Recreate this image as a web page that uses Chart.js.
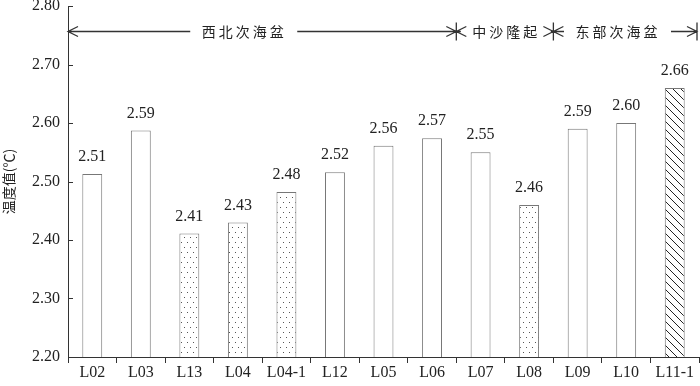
<!DOCTYPE html>
<html>
<head>
<meta charset="utf-8">
<script src="https://cdn.jsdelivr.net/npm/chart.js@4/dist/chart.umd.min.js"></script>
<style>html,body{margin:0;padding:0;background:#fff}</style>
</head>
<body>
<canvas id="tempChart" width="700" height="386"></canvas>
<script>
// stations and bottom water temperature
const stations = ['L02', 'L03', 'L13', 'L04', 'L04-1', 'L12', 'L05', 'L06', 'L07', 'L08', 'L09', 'L10', 'L11-1'];
const temps = [2.513, 2.587, 2.411, 2.430, 2.482, 2.516, 2.561, 2.574, 2.550, 2.460, 2.590, 2.600, 2.660];
const fills = ['plain', 'plain', 'dots', 'dots', 'dots', 'plain', 'plain', 'plain', 'plain', 'dots', 'plain', 'plain', 'hatch'];

// regions along the top (edges are in category index units)
const regions = ['西北次海盆', '中沙隆起', '东部次海盆'];
const regionEdges = [-0.5, 7.5, 9.5, 12.5];
const regionLabelAt = [3.1, 8.5, 10.8];
const regionArrowY = 2.757;

const SERIF = '"Liberation Serif", "Times New Roman", serif';
const CJK = '"Noto Sans CJK SC", sans-serif';

function dotPattern() {
  const c = document.createElement('canvas');
  c.width = 6; c.height = 10;
  const g = c.getContext('2d');
  g.fillStyle = '#fff';
  g.fillRect(0, 0, 6, 10);
  g.fillStyle = '#555';
  g.fillRect(1, 2, 1, 1);
  g.fillRect(4, 7, 1, 1);
  return g.createPattern(c, 'repeat');
}

function hatchPattern() {
  const c = document.createElement('canvas');
  c.width = 8; c.height = 8;
  const g = c.getContext('2d');
  g.fillStyle = '#fff';
  g.fillRect(0, 0, 8, 8);
  g.strokeStyle = '#222';
  g.lineWidth = 1;
  g.beginPath();
  g.moveTo(-1, -1); g.lineTo(9, 9);
  g.moveTo(-5, 3); g.lineTo(1, 9);
  g.moveTo(7, -1); g.lineTo(9, 1);
  g.stroke();
  return g.createPattern(c, 'repeat');
}

const patterns = { plain: '#fff', dots: dotPattern(), hatch: hatchPattern() };

const extras = {
  id: 'extras',
  afterDatasetsDraw(chart) {
    const ctx = chart.ctx;
    const meta = chart.getDatasetMeta(0);
    ctx.save();
    ctx.font = '16px ' + SERIF;
    ctx.fillStyle = '#222';
    ctx.textAlign = 'center';
    ctx.textBaseline = 'bottom';
    meta.data.forEach((bar, i) => {
      ctx.fillText(temps[i].toFixed(2), bar.x, bar.y - 9);
    });
    ctx.restore();
  },
  afterDraw(chart) {
    const ctx = chart.ctx;
    const x = chart.scales.x, y = chart.scales.y;
    ctx.save();
    // inward ticks on the y axis
    ctx.strokeStyle = '#333';
    ctx.lineWidth = 1;
    ctx.beginPath();
    y.ticks.forEach(t => {
      const py = Math.round(y.getPixelForValue(t.value)) + 0.5;
      ctx.moveTo(x.left, py);
      ctx.lineTo(x.left + 5, py);
    });
    ctx.stroke();

    // region arrows
    const ay = Math.round(y.getPixelForValue(regionArrowY)) + 0.5;
    const px = v => x.getPixelForValue(v);
    const head = (tx, dir) => {
      ctx.moveTo(tx - dir * 10, ay - 5);
      ctx.lineTo(tx, ay);
      ctx.lineTo(tx - dir * 10, ay + 5);
    };
    ctx.font = '14px ' + CJK;
    ctx.letterSpacing = '3px';
    ctx.fillStyle = '#222';
    ctx.textAlign = 'center';
    ctx.textBaseline = 'middle';
    ctx.lineWidth = 1.3;
    ctx.beginPath();
    regions.forEach((name, i) => {
      let x0 = px(regionEdges[i]), x1 = px(regionEdges[i + 1]);
      if (i === 0) x0 = x.left;
      if (i === regions.length - 1) x1 = x.right - 2;
      const cx = px(regionLabelAt[i]);
      const w = ctx.measureText(name).width;
      ctx.fillText(name, cx + 1.5, ay);
      ctx.moveTo(x0, ay); ctx.lineTo(cx - w / 2 - 10, ay);
      ctx.moveTo(cx + w / 2 + 12, ay); ctx.lineTo(x1, ay);
      head(x0, -1);
      head(x1, 1);
      if (i > 0) { ctx.moveTo(x0, ay - 9); ctx.lineTo(x0, ay + 9); }
      if (i === regions.length - 1) { ctx.moveTo(x1, ay - 9); ctx.lineTo(x1, ay + 9); }
    });
    ctx.stroke();
    ctx.restore();
  }
};

new Chart(document.getElementById('tempChart'), {
  type: 'bar',
  data: {
    labels: stations,
    datasets: [{
      data: temps,
      backgroundColor: fills.map(f => patterns[f]),
      borderColor: '#777',
      borderWidth: 1,
      categoryPercentage: 1,
      barPercentage: 0.41
    }]
  },
  options: {
    responsive: false,
    animation: false,
    layout: { padding: { top: 0, right: 1, left: 0, bottom: 0 } },
    plugins: { legend: { display: false }, tooltip: { enabled: false } },
    scales: {
      x: {
        grid: { offset: true, drawOnChartArea: false, tickLength: 6, color: '#333' },
        border: { color: '#333' },
        ticks: { color: '#222', font: { family: SERIF, size: 16 }, padding: 0, maxRotation: 0 },
        afterFit: s => { s.height = 29; }
      },
      y: {
        min: 2.2,
        max: 2.8,
        grid: { drawOnChartArea: false, drawTicks: false },
        border: { color: '#333' },
        ticks: {
          stepSize: 0.1,
          color: '#222',
          padding: 8,
          font: { family: SERIF, size: 16 },
          callback: v => v.toFixed(2)
        },
        title: { display: true, text: '温度值(℃)', color: '#222', font: { family: CJK, size: 14 }, padding: 0 },
        afterFit: s => { s.width = 68; s.paddingTop = 6; s.paddingBottom = 0; }
      }
    }
  },
  plugins: [extras]
});
</script>
</body>
</html>
